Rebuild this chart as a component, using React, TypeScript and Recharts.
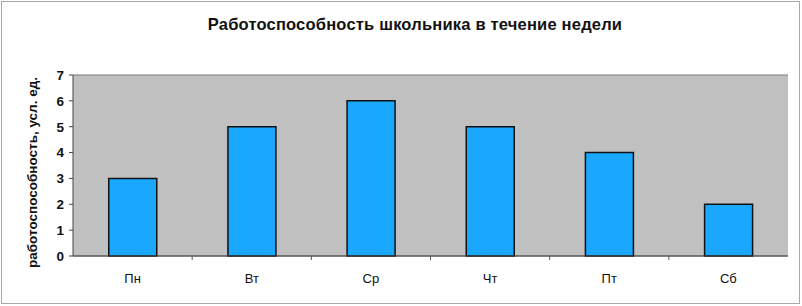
import { BarChart, Bar, XAxis, YAxis, CartesianGrid } from "recharts";

const days = ["Пн", "Вт", "Ср", "Чт", "Пт", "Сб"];
const performance = [3, 5, 6, 5, 4, 2];
const yTicks = [0, 1, 2, 3, 4, 5, 6, 7];

const data = days.map((d, i) => ({ day: d, value: performance[i] }));

const W = 802;
const H = 306;
const margin = { top: 75, right: 14, bottom: 20, left: 43 };
const step = (W - 73 - margin.right) / days.length;

const DayTick = (props: any) => {
  const { x, y, payload, index } = props;
  const axisY = y - 18;
  return (
    <g>
      {index > 0 && (
        <line x1={x - step / 2} x2={x - step / 2} y1={axisY} y2={axisY + 4} stroke="#555" />
      )}
      <text x={x} y={y} dy="0.71em" textAnchor="middle" fontSize={13} fill="#111">
        {payload.value}
      </text>
    </g>
  );
};

export default function App() {
  return (
    <div style={{ position: "absolute", left: 0, top: 0, width: W, height: H, background: "#fff", fontFamily: "'Liberation Sans', Arial, sans-serif" }}>
      <div style={{ position: "absolute", left: 1, top: 1, width: 797, height: 301, border: "1px solid #a8a8a8" }} />
      <div style={{ position: "absolute", left: 0, width: W, top: 15, textAlign: "center", fontWeight: "bold", fontSize: 16.5, letterSpacing: 0.2, color: "#111", paddingLeft: 14 }}>
        Работоспособность школьника в течение недели
      </div>
      <BarChart width={W} height={H} data={data} margin={margin} barCategoryGap="30%">
        <CartesianGrid vertical={false} stroke="#7a7a7a" fill="#c0c0c0" fillOpacity={1} />
        <XAxis
          dataKey="day"
          tickLine={false}
          tickSize={6}
          tickMargin={12}
          height={30}
          axisLine={{ stroke: "#444" }}
          tick={<DayTick />}
          interval={0}
        />
        <YAxis
          yAxisId="l"
          domain={[0, 7]}
          ticks={yTicks}
          width={30}
          tickSize={4}
          tickMargin={5}
          axisLine={{ stroke: "#444" }}
          tickLine={{ stroke: "#444" }}
          tick={{ fontSize: 13.5, fontWeight: "bold", fill: "#111" }}
          label={{
            value: "работоспособность, усл. ед.",
            angle: -90,
            position: "insideLeft",
            dx: -16,
            dy: 7,
            style: { textAnchor: "middle", fontSize: 13.5, fontWeight: "bold", fill: "#111" },
          }}
        />
        <YAxis
          yAxisId="r"
          orientation="right"
          domain={[0, 7]}
          width={0}
          tick={false}
          tickLine={false}
          axisLine={{ stroke: "#7a7a7a" }}
        />
        <Bar yAxisId="l" dataKey="value" fill="#1aa8ff" stroke="#111" strokeWidth={1.5} isAnimationActive={false} />
      </BarChart>
    </div>
  );
}
